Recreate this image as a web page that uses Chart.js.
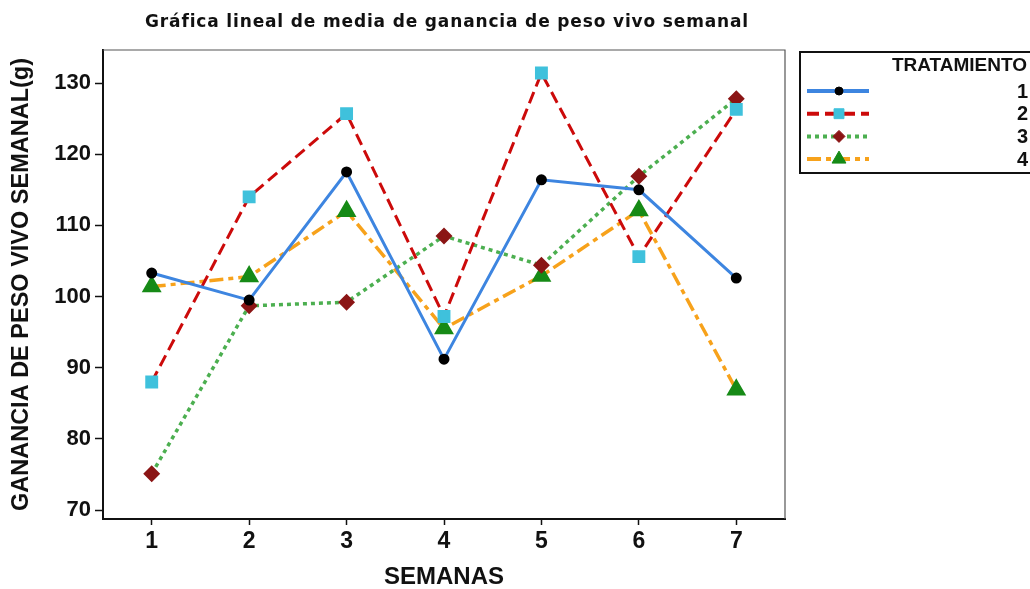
<!DOCTYPE html>
<html>
<head>
<meta charset="utf-8">
<script src="https://cdn.jsdelivr.net/npm/chart.js@4.4.0/dist/chart.umd.min.js"></script>
<style>
  html, body { margin: 0; padding: 0; background: #fff; }
  #wrap { width: 1030px; height: 589px; }
</style>
</head>
<body>
<div id="wrap"><canvas id="grafico"></canvas></div>
<script>
// datos
const semanas = [1, 2, 3, 4, 5, 6, 7];
const yTicks = [70, 80, 90, 100, 110, 120, 130];
const trat1 = [103.3, 99.5, 117.5, 91.2, 116.4, 115.0, 102.6];
const trat2 = [88.0, 114.0, 125.7, 97.2, 131.4, 105.6, 126.3];
const trat3 = [75.1, 98.7, 99.2, 108.5, 104.4, 116.9, 127.8];
const trat4 = [101.4, 102.8, 112.0, 95.5, 102.9, 112.1, 86.9];
const nombres = ['1', '2', '3', '4'];

const FUENTE = '"Liberation Sans", Arial, sans-serif';
const TITULO = 'Gráfica lineal de media de ganancia de peso vivo semanal';

function puntos(valores) {
    return semanas.map((s, i) => ({ x: s, y: valores[i] }));
}

// título y caja alrededor del área de trazado
const marco = {
    id: 'marco',
    afterDraw(chart) {
        const a = chart.chartArea;
        const ctx = chart.ctx;
        ctx.save();
        ctx.strokeStyle = '#555';
        ctx.lineWidth = 1.2;
        ctx.beginPath();
        ctx.moveTo(a.left, a.top);
        ctx.lineTo(a.right, a.top);
        ctx.lineTo(a.right, a.bottom);
        ctx.stroke();
        ctx.fillStyle = '#111';
        ctx.font = 'bold 17px "DejaVu Sans", sans-serif';
        ctx.letterSpacing = '0.85px';
        ctx.textAlign = 'center';
        ctx.textBaseline = 'middle';
        ctx.fillText(TITULO, 447, 23);
        ctx.restore();
    }
};

function marcador(ctx, ds, x, y) {
    ctx.fillStyle = ds.pointBackgroundColor;
    ctx.strokeStyle = ds.pointBorderColor;
    ctx.lineWidth = 1;
    ctx.setLineDash([]);
    Chart.helpers.drawPoint(ctx, {
        pointStyle: ds.pointStyle,
        radius: ds.pointRadius,
        rotation: 0,
        borderWidth: 1
    }, x, y);
}

// leyenda dibujada a mano (línea + marcador, número a la derecha)
const leyenda = {
    id: 'leyenda',
    afterDraw(chart) {
        const ctx = chart.ctx;
        ctx.save();
        ctx.strokeStyle = '#111';
        ctx.lineWidth = 2;
        ctx.strokeRect(800, 52, 235, 121);
        ctx.fillStyle = '#111';
        ctx.font = 'bold 19px ' + FUENTE;
        ctx.textAlign = 'right';
        ctx.textBaseline = 'middle';
        ctx.fillText('TRATAMIENTO', 1027, 66);
        chart.data.datasets.forEach((ds, i) => {
            const y = 91 + i * 22.7;
            ctx.save();
            ctx.strokeStyle = ds.borderColor;
            ctx.lineWidth = 4;
            ctx.setLineDash(ds.borderDash || []);
            ctx.beginPath();
            ctx.moveTo(807, y);
            ctx.lineTo(869, y);
            ctx.stroke();
            marcador(ctx, ds, 839, y);
            ctx.restore();
            ctx.fillStyle = '#111';
            ctx.font = 'bold 20px ' + FUENTE;
            ctx.fillText(ds.label, 1028, y + 1);
        });
        ctx.restore();
    }
};

const ctx = document.getElementById('grafico').getContext('2d');
new Chart(ctx, {
    type: 'line',
    data: {
        datasets: [{
            label: nombres[0],
            data: puntos(trat1),
            borderColor: '#3d85e0',
            borderWidth: 3,
            pointStyle: 'circle',
            pointRadius: 4,
            pointBackgroundColor: '#000',
            pointBorderColor: '#000'
        }, {
            label: nombres[1],
            data: puntos(trat2),
            borderColor: '#cc0a0a',
            borderWidth: 3,
            borderDash: [12, 6],
            pointStyle: 'rect',
            pointRadius: 7,
            pointBackgroundColor: '#3fc1dc',
            pointBorderColor: '#3fc1dc'
        }, {
            label: nombres[2],
            data: puntos(trat3),
            borderColor: '#4caf50',
            borderWidth: 3.5,
            borderDash: [4, 4],
            pointStyle: 'rectRot',
            pointRadius: 6,
            pointBackgroundColor: '#8b1515',
            pointBorderColor: '#8b1515'
        }, {
            label: nombres[3],
            data: puntos(trat4),
            borderColor: '#f7a21b',
            borderWidth: 3.5,
            borderDash: [14, 5, 5, 5],
            pointStyle: 'triangle',
            pointRadius: 8,
            pointBackgroundColor: '#168a16',
            pointBorderColor: '#168a16'
        }]
    },
    options: {
        responsive: true,
        maintainAspectRatio: false,
        animation: false,
        layout: { padding: { left: 6, right: 245, top: 50, bottom: 0 } },
        plugins: {
            legend: { display: false },
            tooltip: { enabled: false }
        },
        scales: {
            x: {
                type: 'linear',
                min: 0.5,
                max: 7.5,
                afterBuildTicks: scale => { scale.ticks = semanas.map(v => ({ value: v })); },
                afterFit: scale => { scale.height = 70; },
                grid: { drawOnChartArea: false, color: '#111', tickLength: 6, tickWidth: 1.5 },
                border: { color: '#111', width: 2 },
                ticks: { color: '#111', font: { family: FUENTE, size: 23, weight: 'bold' }, padding: 3 },
                title: {
                    display: true,
                    text: 'SEMANAS',
                    color: '#111',
                    font: { family: FUENTE, size: 24, weight: 'bold', lineHeight: 1 },
                    padding: { top: 0, bottom: 0 }
                }
            },
            y: {
                min: 68.74,
                max: 134.64,
                afterBuildTicks: scale => { scale.ticks = yTicks.map(v => ({ value: v })); },
                afterFit: scale => { scale.width = 97; },
                grid: { drawOnChartArea: false, color: '#111', tickLength: 8, tickWidth: 1.5 },
                border: { color: '#111', width: 2 },
                ticks: { color: '#111', font: { family: FUENTE, size: 22, weight: 'bold' }, padding: 4 },
                title: {
                    display: true,
                    text: 'GANANCIA DE PESO VIVO SEMANAL(g)',
                    color: '#111',
                    font: { family: FUENTE, size: 23.5, weight: 'bold', lineHeight: 1 },
                    padding: { top: 4, bottom: 0 }
                }
            }
        }
    },
    plugins: [marco, leyenda]
});
</script>
</body>
</html>
